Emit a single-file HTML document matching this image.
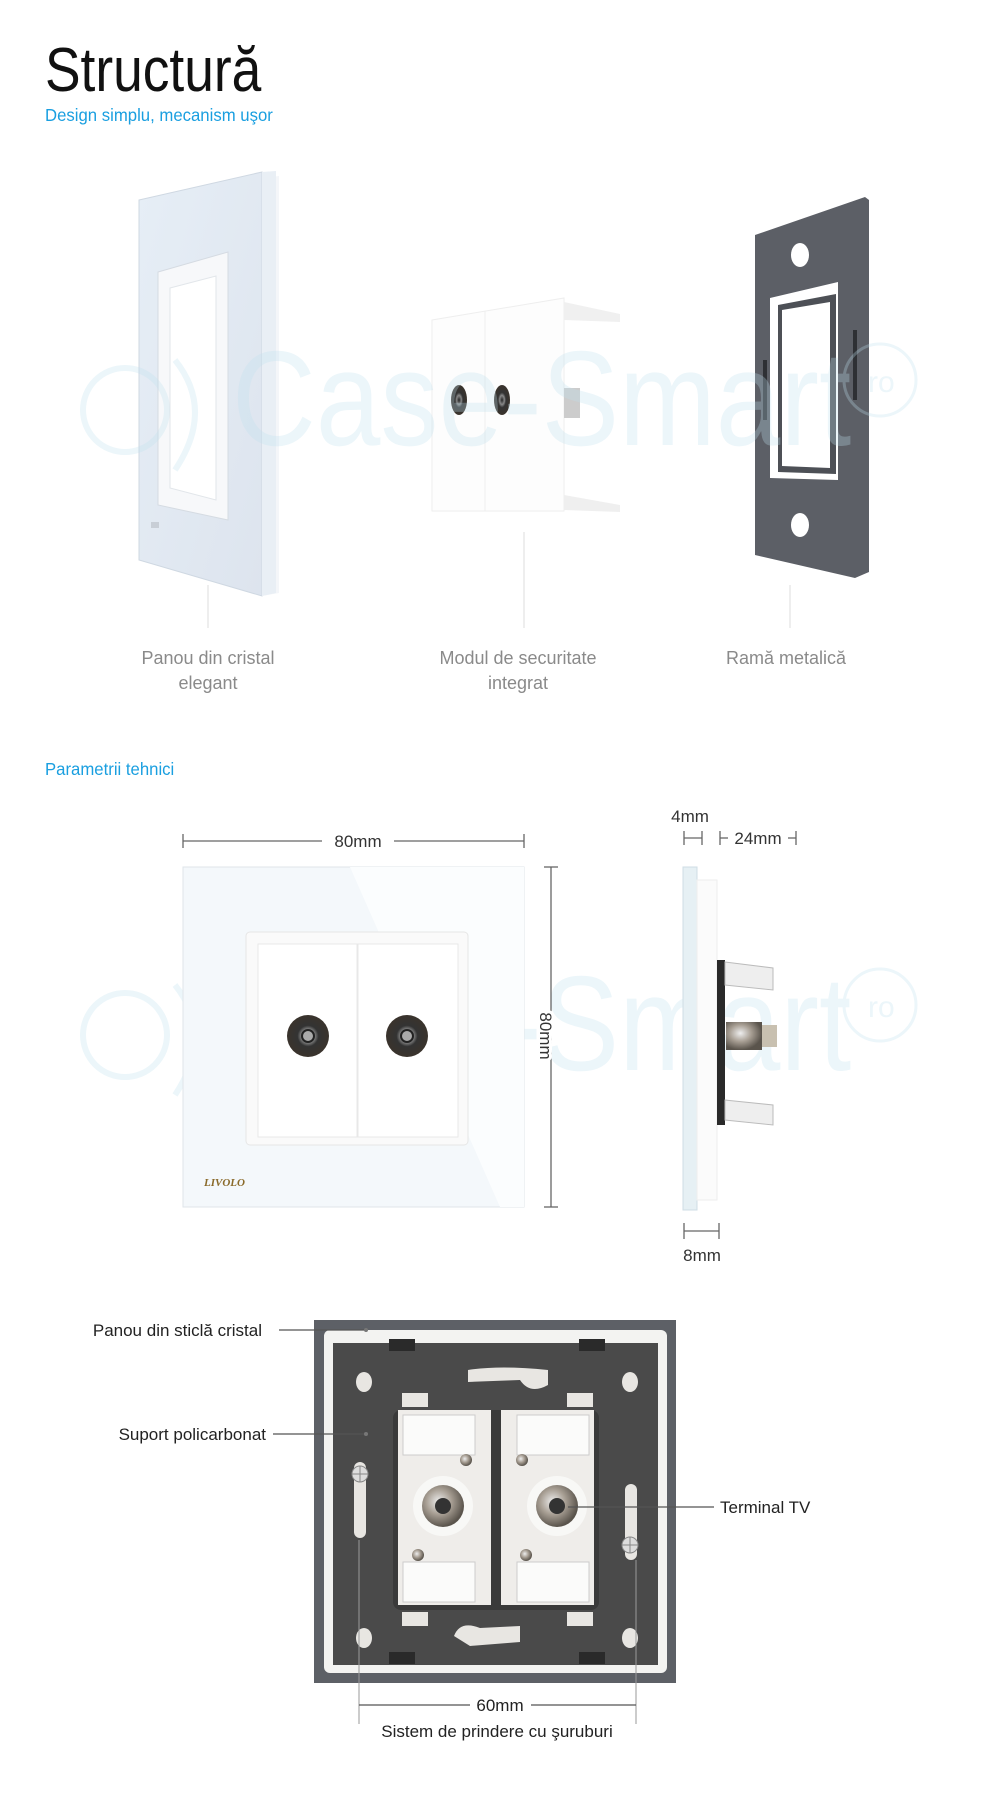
<!DOCTYPE html>
<html><head><meta charset="utf-8"><style>
html,body{margin:0;padding:0;background:#fff;}
body{width:1000px;height:1797px;overflow:hidden;position:relative;font-family:"Liberation Sans Narrow","Liberation Sans",sans-serif;}
svg{position:absolute;left:0;top:0;}
</style></head><body>
<svg width="1000" height="1797" viewBox="0 0 1000 1797" xmlns="http://www.w3.org/2000/svg" font-family="Liberation Sans Narrow, Liberation Sans, sans-serif">
<defs>
<linearGradient id="glass" x1="0" y1="0" x2="1" y2="1"><stop offset="0" stop-color="#e6eef6"/><stop offset="1" stop-color="#dde4ee"/></linearGradient>
<radialGradient id="coax" cx="0.5" cy="0.5" r="0.5"><stop offset="0" stop-color="#222"/><stop offset="0.3" stop-color="#888"/><stop offset="0.5" stop-color="#333"/><stop offset="1" stop-color="#3a332c"/></radialGradient>
<radialGradient id="metal" cx="0.4" cy="0.4" r="0.6"><stop offset="0" stop-color="#eee"/><stop offset="0.5" stop-color="#a89f94"/><stop offset="1" stop-color="#5a544c"/></radialGradient>
</defs>

<!-- Title -->
<text x="45" y="91" font-size="62" fill="#111" transform="translate(45 0) scale(0.86 1) translate(-45 0)">Structură</text>
<text x="45" y="121" font-size="18" fill="#1a9fe0" transform="translate(45 0) scale(0.93 1) translate(-45 0)">Design simplu, mecanism uşor</text>

<!-- Glass panel -->
<polygon points="262,178 279,176 279,593 262,596" fill="#f4f6f9"/>
<polygon points="139,200 262,172 262,596 139,560" fill="url(#glass)" stroke="#cfd8e2"/>
<polygon points="262,172 276,171 276,593 262,596" fill="#e9eff5"/>
<polygon points="158,272 228,252 228,520 158,505" fill="#f7f8fa" stroke="#d5dbe2"/>
<polygon points="170,288 216,276 216,500 170,488" fill="#fff" stroke="#e2e6ea"/>
<rect x="151" y="522" width="8" height="6" fill="#c8ced6"/>

<!-- Module -->
<polygon points="432,320 564,298 564,511 432,511" fill="#fdfdfd" stroke="#eee"/>
<line x1="485" y1="311" x2="485" y2="511" stroke="#eee"/>
<polygon points="564,302 620,314 620,322 564,320" fill="#f0f0f0"/>
<polygon points="564,495 620,505 620,512 564,510" fill="#efefef"/>
<rect x="564" y="388" width="16" height="30" fill="#ccc"/>
<ellipse cx="459" cy="400" rx="8" ry="15" fill="url(#coax)"/>
<ellipse cx="502" cy="400" rx="8" ry="15" fill="url(#coax)"/>

<!-- Metal frame -->
<polygon points="755,235 865,197 869,200 869,572 855,578 755,555" fill="#5c5f66"/>
<polygon points="770,298 838,282 838,480 770,478" fill="#fff"/>
<polygon points="778,305 836,294 836,474 778,472" fill="#4d5056"/>
<polygon points="782,310 830,302 830,468 782,466" fill="#fff"/>
<ellipse cx="800" cy="255" rx="9" ry="12" fill="#fff"/>
<ellipse cx="800" cy="525" rx="9" ry="12" fill="#fff"/>
<rect x="763" y="360" width="4" height="60" fill="#2e3034"/>
<rect x="853" y="330" width="4" height="70" fill="#2e3034"/>

<!-- Watermarks -->
<g opacity="0.3">
<text x="232" y="445" font-size="135" fill="#bfe0ee" font-family="Liberation Sans" transform="translate(232 0) scale(0.86 1) translate(-232 0)">Case-Smart</text>
<text x="868" y="392" font-size="30" fill="#bfe0ee" font-family="Liberation Sans">ro</text>
<circle cx="880" cy="380" r="36" fill="none" stroke="#bfe0ee" stroke-width="3"/>
<circle cx="125" cy="410" r="42" fill="none" stroke="#bfe0ee" stroke-width="6"/>
<path d="M175 360 Q215 410 175 470" fill="none" stroke="#bfe0ee" stroke-width="6"/>
<text x="232" y="1070" font-size="135" fill="#bfe0ee" font-family="Liberation Sans" transform="translate(232 0) scale(0.86 1) translate(-232 0)">Case-Smart</text>
<text x="868" y="1017" font-size="30" fill="#bfe0ee" font-family="Liberation Sans">ro</text>
<circle cx="880" cy="1005" r="36" fill="none" stroke="#bfe0ee" stroke-width="3"/>
<circle cx="125" cy="1035" r="42" fill="none" stroke="#bfe0ee" stroke-width="6"/>
<path d="M175 985 Q215 1035 175 1095" fill="none" stroke="#bfe0ee" stroke-width="6"/>
</g>

<!-- Leader lines -->
<g stroke="#ddd" stroke-width="1">
<line x1="208" y1="585" x2="208" y2="628"/>
<line x1="524" y1="532" x2="524" y2="628"/>
<line x1="790" y1="585" x2="790" y2="628"/>
</g>
<g font-size="18" fill="#8a8a8a" text-anchor="middle">
<text x="208" y="664">Panou din cristal</text>
<text x="208" y="689">elegant</text>
<text x="518" y="664">Modul de securitate</text>
<text x="518" y="689">integrat</text>
<text x="786" y="664">Ramă metalică</text>
</g>

<text x="45" y="775" font-size="18" fill="#1a9fe0" transform="translate(45 0) scale(0.93 1) translate(-45 0)">Parametrii tehnici</text>

<!-- Dimensions front -->
<g stroke="#666" stroke-width="1.3" fill="none">
<line x1="183" y1="841" x2="322" y2="841"/><line x1="394" y1="841" x2="524" y2="841"/>
<line x1="183" y1="834" x2="183" y2="848"/><line x1="524" y1="834" x2="524" y2="848"/>
<line x1="551" y1="867" x2="551" y2="1207"/><line x1="544" y1="867" x2="558" y2="867"/><line x1="544" y1="1207" x2="558" y2="1207"/>
</g>
<g font-size="17" fill="#333">
<text x="358" y="847" text-anchor="middle">80mm</text>
<text transform="translate(540 1036) rotate(90)" text-anchor="middle" x="0" y="0" style="paint-order:stroke" stroke="#fff" stroke-width="6">80mm</text>
</g>

<!-- Front panel -->
<rect x="183" y="867" width="341" height="340" fill="#f4f8fb" stroke="#dfe5ea"/>
<polygon points="350,867 524,867 524,1207 500,1207" fill="#fbfdfe"/>
<rect x="246" y="932" width="222" height="213" rx="4" fill="#fafafa" stroke="#e6e6e6"/>
<rect x="258" y="944" width="99" height="193" fill="#fff" stroke="#e8e8e8"/>
<rect x="358" y="944" width="100" height="193" fill="#fff" stroke="#e8e8e8"/>
<circle cx="308" cy="1036" r="21" fill="url(#coax)"/>
<circle cx="308" cy="1036" r="6" fill="#aaa" stroke="#222" stroke-width="2"/>
<circle cx="407" cy="1036" r="21" fill="url(#coax)"/>
<circle cx="407" cy="1036" r="6" fill="#aaa" stroke="#222" stroke-width="2"/>
<text x="204" y="1186" font-size="11" font-weight="bold" font-style="italic" fill="#8a6a2a" font-family="Liberation Serif">LIVOLO</text>

<!-- Side view -->
<rect x="683" y="867" width="14" height="343" fill="#e6f0f4" stroke="#cfdde4"/>
<rect x="697" y="880" width="20" height="320" fill="#fbfbfb" stroke="#eee"/>
<rect x="717" y="960" width="8" height="165" fill="#2a2a2a"/>
<polygon points="725,962 773,968 773,990 725,985" fill="#eee" stroke="#bbb"/>
<polygon points="725,1100 773,1105 773,1125 725,1120" fill="#eee" stroke="#bbb"/>
<rect x="726" y="1022" width="36" height="28" fill="url(#metal)"/>
<rect x="762" y="1025" width="15" height="22" fill="#c8c0b0"/>
<g stroke="#666" stroke-width="1.3">
<line x1="684" y1="838" x2="702" y2="838"/><line x1="684" y1="831" x2="684" y2="845"/><line x1="702" y1="831" x2="702" y2="845"/>
<line x1="720" y1="838" x2="728" y2="838"/><line x1="720" y1="831" x2="720" y2="845"/>
<line x1="788" y1="838" x2="796" y2="838"/><line x1="796" y1="831" x2="796" y2="845"/>
<line x1="684" y1="1231" x2="719" y2="1231"/><line x1="684" y1="1223" x2="684" y2="1239"/><line x1="719" y1="1223" x2="719" y2="1239"/>
</g>
<g font-size="17" fill="#333">
<text x="690" y="822" text-anchor="middle">4mm</text>
<text x="758" y="844" text-anchor="middle">24mm</text>
<text x="702" y="1261" text-anchor="middle">8mm</text>
</g>

<!-- Back view -->
<rect x="314" y="1320" width="362" height="363" fill="#5d6066"/>
<rect x="324" y="1330" width="343" height="343" rx="6" fill="#f3f3f1"/>
<polygon points="333,1343 658,1343 658,1665 333,1665" fill="#4a4a4a"/>
<g fill="#2a2a2a"><rect x="389" y="1339" width="26" height="12"/><rect x="579" y="1339" width="26" height="12"/><rect x="389" y="1652" width="26" height="12"/><rect x="579" y="1652" width="26" height="12"/></g>
<g fill="#e8e6e2">
<ellipse cx="364" cy="1382" rx="8" ry="10"/><ellipse cx="630" cy="1382" rx="8" ry="10"/>
<ellipse cx="364" cy="1638" rx="8" ry="10"/><ellipse cx="630" cy="1638" rx="8" ry="10"/>
<path d="M468 1370 Q500 1365 548 1370 L548 1385 Q530 1395 520 1380 L468 1382 Z"/>
<path d="M454 1636 Q460 1620 480 1628 L520 1626 L520 1642 L470 1646 Z"/>
<rect x="354" y="1462" width="12" height="76" rx="6"/>
<rect x="625" y="1484" width="12" height="76" rx="6"/>
<rect x="402" y="1393" width="26" height="14"/><rect x="567" y="1393" width="26" height="14"/>
<rect x="402" y="1612" width="26" height="14"/><rect x="567" y="1612" width="26" height="14"/>
</g>
<circle cx="360" cy="1474" r="8" fill="#ddd" stroke="#888"/><path d="M352 1474h16M360 1466v16" stroke="#888"/>
<circle cx="630" cy="1545" r="8" fill="#ddd" stroke="#888"/><path d="M622 1545h16M630 1537v16" stroke="#888"/>
<rect x="393" y="1410" width="206" height="200" rx="8" fill="#3a3a3a"/>
<rect x="398" y="1410" width="93" height="195" fill="#efedea"/>
<rect x="501" y="1410" width="93" height="195" fill="#efedea"/>
<rect x="403" y="1415" width="72" height="40" fill="#fbfbfa" stroke="#ccc"/>
<rect x="517" y="1415" width="72" height="40" fill="#fbfbfa" stroke="#ccc"/>
<rect x="403" y="1562" width="72" height="40" fill="#fbfbfa" stroke="#ccc"/>
<rect x="517" y="1562" width="72" height="40" fill="#fbfbfa" stroke="#ccc"/>
<circle cx="466" cy="1460" r="6" fill="url(#metal)"/><circle cx="522" cy="1460" r="6" fill="url(#metal)"/>
<circle cx="418" cy="1555" r="6" fill="url(#metal)"/><circle cx="526" cy="1555" r="6" fill="url(#metal)"/>
<circle cx="443" cy="1506" r="30" fill="#f8f8f6"/><circle cx="557" cy="1506" r="30" fill="#f8f8f6"/>
<circle cx="443" cy="1506" r="21" fill="url(#metal)"/><circle cx="443" cy="1506" r="8" fill="#333"/>
<circle cx="557" cy="1506" r="21" fill="url(#metal)"/><circle cx="557" cy="1506" r="8" fill="#333"/>

<g stroke="#555" stroke-width="1.3">
<line x1="279" y1="1330" x2="365" y2="1330"/><circle cx="366" cy="1330" r="2" fill="#777" stroke="none"/>
<line x1="273" y1="1434" x2="365" y2="1434"/><circle cx="366" cy="1434" r="2" fill="#777" stroke="none"/>
<line x1="568" y1="1507" x2="714" y2="1507"/>
<line x1="359" y1="1540" x2="359" y2="1724" stroke="#999" stroke-width="1"/>
<line x1="636" y1="1560" x2="636" y2="1724" stroke="#999" stroke-width="1"/>
<line x1="359" y1="1705" x2="470" y2="1705"/><line x1="531" y1="1705" x2="636" y2="1705"/>
</g>
<g font-size="17" fill="#222">
<text x="262" y="1336" text-anchor="end">Panou din sticlă cristal</text>
<text x="266" y="1440" text-anchor="end">Suport policarbonat</text>
<text x="720" y="1513">Terminal TV</text>
<text x="500" y="1711" text-anchor="middle">60mm</text>
<text x="497" y="1737" text-anchor="middle">Sistem de prindere cu şuruburi</text>
</g>
</svg>
</body></html>
